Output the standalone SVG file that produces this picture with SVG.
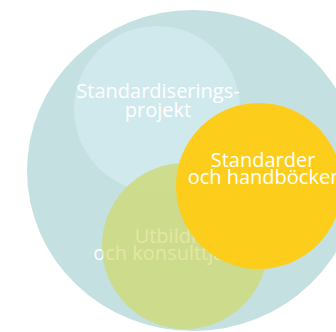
<svg xmlns="http://www.w3.org/2000/svg" width="336" height="332" viewBox="0 0 336 332">
<style>
text{font-family:"Open Sans","Noto Sans","Liberation Sans",sans-serif;font-size:20px;text-anchor:middle;fill:#ffffff}
</style>
<defs>
<radialGradient id="gtext" gradientUnits="userSpaceOnUse" cx="185" cy="246" r="83" fx="185" fy="246">
<stop offset="0" stop-color="#e4e7a3"/>
<stop offset="0.995" stop-color="#e4e7a3"/>
<stop offset="1" stop-color="#ffffff"/>
</radialGradient>
</defs>
<rect width="336" height="332" fill="#ffffff"/>
<g id="helhet">
<ellipse cx="193" cy="170.5" rx="166" ry="160.5" fill="#c5e0e1"/>
</g>
<g id="projekt">
<circle cx="157" cy="109" r="83" fill="#cfe9ec"/>
<text><tspan x="158" y="98">Standardiserings-</tspan><tspan x="158" y="117">projekt</tspan></text>
</g>
<g id="utbildning">
<circle cx="185" cy="246" r="83" fill="#ccd97d" fill-opacity="0.85"/>
<text style="fill:url(#gtext)"><tspan x="183" y="243">Utbildning</tspan><tspan x="183" y="260">och konsulttjänster</tspan></text>
</g>
<g id="standarder">
<circle cx="259" cy="186" r="83" fill="#fdcd1c"/>
<text><tspan x="263" y="167">Standarder</tspan><tspan x="263" y="184">och handböcker</tspan></text>
</g>
</svg>
